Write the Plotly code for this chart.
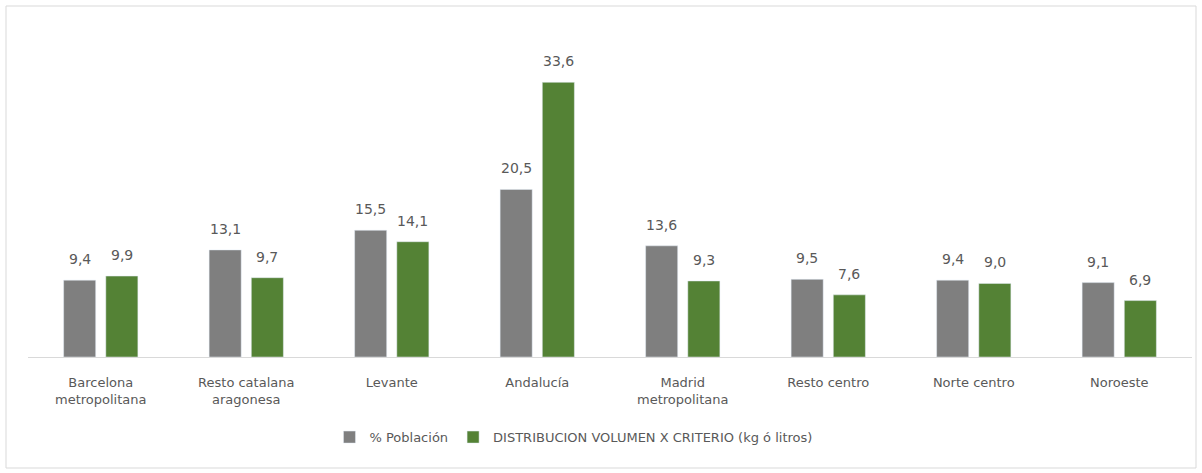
import plotly.graph_objects as go

categories = ["Barcelona<br>metropolitana", "Resto catalana<br>aragonesa", "Levante", "Andalucía",
              "Madrid<br>metropolitana", "Resto centro", "Norte centro", "Noroeste"]
poblacion = [9.4, 13.1, 15.5, 20.5, 13.6, 9.5, 9.4, 9.1]
distribucion = [9.9, 9.7, 14.1, 33.6, 9.3, 7.6, 9.0, 6.9]
series_names = ["% Población", "DISTRIBUCION VOLUMEN X CRITERIO (kg ó litros)"]

FONT = "DejaVu Sans, sans-serif"
W, H = 1202, 473
ML, MR, MT, MB = 28, 10, 30, 116
BARGAP = 0.42

fig = go.Figure()
fig.add_trace(go.Bar(x=categories, y=poblacion, name=series_names[0], marker_color="#7f7f7f"))
fig.add_trace(go.Bar(x=categories, y=distribucion, name=series_names[1], marker_color="#548235"))

# value labels above each bar
cat_px = (W - ML - MR) / len(categories)
half_pitch = cat_px * (1 - BARGAP) / 4
annotations = []
for series, sign in ((poblacion, -1), (distribucion, 1)):
    for cat, v in zip(categories, series):
        annotations.append(dict(x=cat, y=v, xref="x", yref="y", text=f"{v:.1f}".replace(".", ","),
                                showarrow=False, yanchor="bottom", xshift=sign * half_pitch, yshift=11,
                                font=dict(size=14, color="#595959", family=FONT)))

fig.update_layout(
    width=W, height=H,
    margin=dict(l=ML, r=MR, t=MT, b=MB),
    paper_bgcolor="white", plot_bgcolor="white",
    font=dict(family=FONT, color="#595959", size=13),
    barmode="group", bargap=BARGAP, bargroupgap=0.24,
    showlegend=True,
    legend=dict(orientation="h", x=0.259, xanchor="left", y=-0.245, yanchor="middle",
                font=dict(size=13, color="#595959", family=FONT), itemwidth=30,
                traceorder="normal"),
    xaxis=dict(showline=True, linecolor="#d9d9d9", linewidth=1, ticks="", showgrid=False,
               ticklabelstandoff=13,
               tickfont=dict(size=13, color="#595959", family=FONT)),
    yaxis=dict(range=[0, 40], visible=False, showgrid=False),
    annotations=annotations,
    shapes=[dict(type="rect", xref="paper", yref="paper",
                 x0=(6 - ML) / (W - ML - MR), x1=(1196 - ML) / (W - ML - MR),
                 y0=(357 - 468) / (H - MT - MB), y1=(357 - 6) / (H - MT - MB),
                 line=dict(color="#d9d9d9", width=1), fillcolor="rgba(0,0,0,0)", layer="below")],
)
fig.write_html("out.html", post_script="document.body.style.margin='0';",
               config={"displayModeBar": False})
